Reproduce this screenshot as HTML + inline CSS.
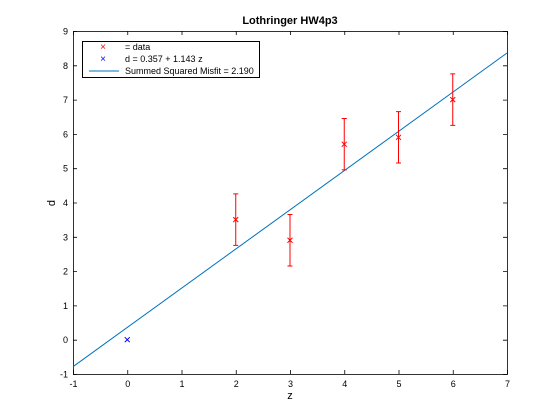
<!DOCTYPE html>
<html><head><meta charset="utf-8"><style>
html,body{margin:0;padding:0;background:#fff;}
svg{display:block;font-family:"Liberation Sans",sans-serif;}
</style></head><body>
<svg id="chart" width="560" height="420" viewBox="0 0 560 420" xmlns="http://www.w3.org/2000/svg">
<rect width="560" height="420" fill="#fff"/>
<text x="290" y="24" text-anchor="middle" font-size="11" font-weight="bold">Lothringer HW4p3</text>
<g id="axes"></g>
<g id="marks"></g>
<g>
<rect x="82.5" y="41.5" width="177" height="36" fill="#fff" stroke="#000" stroke-width="1"/>
<text x="103" y="50" text-anchor="middle" font-size="10" fill="#f00">×</text>
<text x="125" y="50" font-size="9">= data</text>
<text x="103" y="62" text-anchor="middle" font-size="10" fill="#00f">×</text>
<text x="125" y="62" font-size="9">d = 0.357 + 1.143 z</text>
<line x1="89" y1="71" x2="119" y2="71" stroke="#0072bd"/>
<text x="125" y="74" font-size="9">Summed Squared Misfit = 2.190</text>
</g>
</svg>
<script>
const zData = [2, 3, 4, 5, 6];
const dData = [3.5, 2.9, 5.7, 5.9, 7.0];
const errData = [0.75, 0.75, 0.75, 0.75, 0.75];
const zModel = [0];
const dModel = [0];
const intercept = 0.357;
const slope = 1.143;
const xTicks = [-1, 0, 1, 2, 3, 4, 5, 6, 7];
const yTicks = [-1, 0, 1, 2, 3, 4, 5, 6, 7, 8, 9];
const NS = "http://www.w3.org/2000/svg";
const L = 73, R = 507, T = 31, B = 374;
const xs = v => L + (v + 1) / 8 * (R - L);
const ys = v => B - (v + 1) / 10 * (B - T);
function mk(tag, attrs, parent) {
  const e = document.createElementNS(NS, tag);
  for (const k in attrs) e.setAttribute(k, attrs[k]);
  parent.appendChild(e);
  return e;
}
const ax = document.getElementById('axes');
const mg = document.getElementById('marks');
let box = mk('rect', {x: L + 0.5, y: T + 0.5, width: R - L, height: B - T, fill: 'none', stroke: '#000', 'stroke-width': 0.8}, ax);


xTicks.forEach(v => {
  const x = xs(v) + 0.5;
  let t = mk('path', {d: `M${x},${B} v-4 M${x},${T} v4`, stroke: '#000', 'stroke-width': 0.8}, ax);
  
  
  let l = mk('text', {x: x, y: B + 13, 'text-anchor': 'middle', 'font-size': 9}, ax);
  l.textContent = v;
  
  
});
yTicks.forEach(v => {
  const y = ys(v) + 0.5;
  let t = mk('path', {d: `M${L},${y} h4 M${R},${y} h-4`, stroke: '#000', 'stroke-width': 0.8}, ax);
  
  
  let l = mk('text', {x: L - 5, y: y + 3, 'text-anchor': 'end', 'font-size': 9}, ax);
  l.textContent = v;
  
  
});
let xt = mk('text', {x: 290, y: 399, 'text-anchor': 'middle', 'font-size': 11}, ax);
xt.textContent = 'z';


let yt = mk('text', {x: 55, y: 203, 'text-anchor': 'middle', 'font-size': 11, transform: 'rotate(-90 55 203)'}, ax);
yt.textContent = 'd';


let fit = mk('line', {x1: xs(-1), y1: ys(intercept + slope * -1), x2: xs(7), y2: ys(intercept + slope * 7), stroke: '#0072bd', 'stroke-width': 1}, mg);


function cross(cx, cy, color, name) {
  let c = mk('path', {d: `M${cx-2.5},${cy-2.5} L${cx+2.5},${cy+2.5} M${cx-2.5},${cy+2.5} L${cx+2.5},${cy-2.5}`, stroke: color, 'stroke-width': 1}, mg);
  
  
}
zData.forEach((z, i) => {
  const x = xs(z), y1 = ys(dData[i] + errData[i]), y2 = ys(dData[i] - errData[i]);
  let e = mk('path', {d: `M${x},${y1} V${y2} M${x-2.5},${y1} h5 M${x-2.5},${y2} h5`, stroke: '#f00', 'stroke-width': 1, fill: 'none'}, mg);
  
  
  cross(x, ys(dData[i]), '#f00', 'data-point');
});
zModel.forEach((z, i) => cross(xs(z), ys(dModel[i]), '#00f', 'model-point'));
</script>
</body></html>
